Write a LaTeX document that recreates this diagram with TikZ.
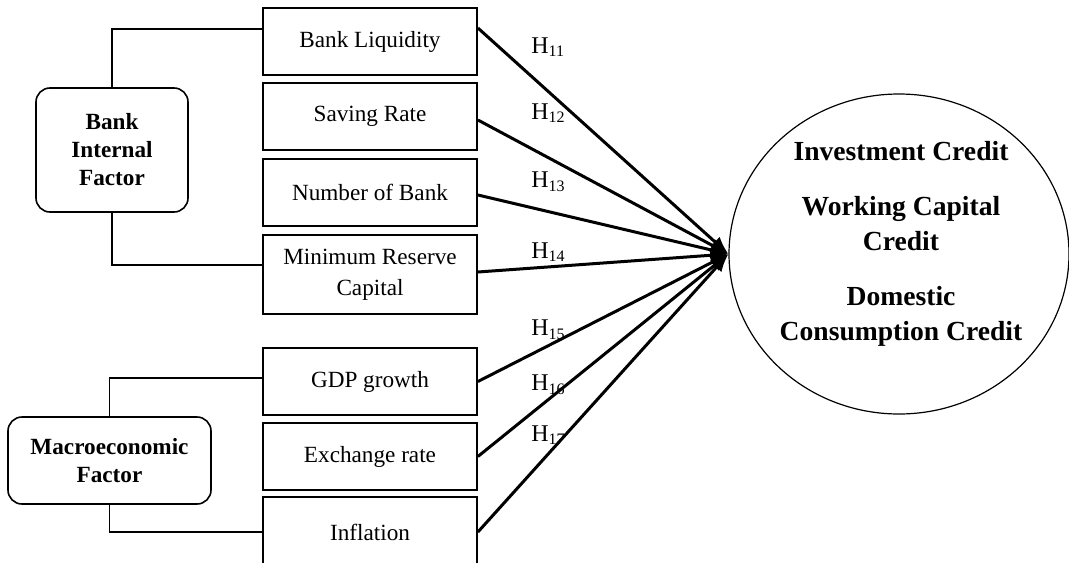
\documentclass[tikz,border=0pt]{standalone}
\usepackage{fontspec}
\setmainfont{Liberation Serif}
\usetikzlibrary{arrows.meta,shapes.geometric}

\tikzset{
  varbox/.style={draw, line width=0.9pt, minimum width=107pt, minimum height=33.5pt,
    inner sep=1pt, align=center, font=\fontsize{11.6}{14}\selectfont},
  factorbox/.style={draw, line width=0.8pt, rounded corners=7pt, align=center,
    font=\fontsize{11.6}{14}\selectfont\bfseries},
  link/.style={line width=0.6pt},
  hyp/.style={line width=1.5pt, -{Latex[length=9pt,width=7pt]}},
  hlab/.style={anchor=west, inner sep=0pt, font=\fontsize{12}{14}\selectfont}
}

\begin{document}
\begin{tikzpicture}[x=0.5pt, y=-0.5pt]
	% page frame
	\useasboundingbox (0,0) rectangle (1069,562);

	% Variables
	\node[varbox] (liq) at (370,41.5) {Bank Liquidity};
	\node[varbox] (sav) at (370,116.5) {Saving Rate};
	\node[varbox] (nob) at (370,192.5) {Number of Bank};
	\node[varbox, minimum height=39.5pt] (mrc) at (370,274.5) {Minimum Reserve\\[1.5pt]Capital};
	\node[varbox] (gdp) at (370,381.5) {GDP growth};
	\node[varbox] (exr) at (370,456.5) {Exchange rate};
	\node[varbox, minimum height=35pt] (inf) at (370,532) {Inflation};

	% Factors
	\node[factorbox, minimum width=76pt, minimum height=62pt] (bif) at (112,150) {Bank\\Internal\\Factor};
	\node[factorbox, minimum width=101.5pt, minimum height=43.5pt] (mef) at (109.5,460.5) {Macroeconomic\\Factor};

	\draw[link] (bif.north) |- ([yshift=6.25pt]liq.west);
	\draw[link] (bif.south) |- ([yshift=4.75pt]mrc.west);
	\draw[link] (mef.north) |- ([yshift=1.75pt]gdp.west);
	\draw[link] (mef.south) |- (inf.west);

	% Credit
	\node[draw, ellipse, line width=0.6pt, minimum width=170pt, minimum height=160pt] (cred) at (899,254) {};
	\node[align=center, font=\fontsize{13.8}{17.5}\selectfont\bfseries] (credtxt) at (901,244)
		{Investment Credit\\[10pt]Working Capital\\Credit\\[10pt]Domestic\\Consumption Credit};

	% Hypotheses
	\draw[hyp] ([yshift=6.75pt]liq.east) -- (cred.west);
	\draw[hyp] ([yshift=-1.75pt]sav.east) -- (cred.west);
	\draw[hyp] ([yshift=-1.25pt]nob.east) -- (cred.west);
	\draw[hyp] ([yshift=1.25pt]mrc.east) -- (cred.west);
	\draw[hyp] (gdp.east) -- (cred.west);
	\draw[hyp] (exr.east) -- (cred.west);
	\draw[hyp] (inf.east) -- (cred.west);

	\node[hlab] (h11) at (531,47) {H\textsubscript{11}};
	\node[hlab] (h12) at (531,113) {H\textsubscript{12}};
	\node[hlab] (h13) at (531,182) {H\textsubscript{13}};
	\node[hlab] (h14) at (531,252) {H\textsubscript{14}};
	\node[hlab] (h15) at (531,330) {H\textsubscript{15}};
	\node[hlab] (h16) at (531,385) {H\textsubscript{16}};
	\node[hlab] (h17) at (531,435) {H\textsubscript{17}};
\end{tikzpicture}
\end{document}
